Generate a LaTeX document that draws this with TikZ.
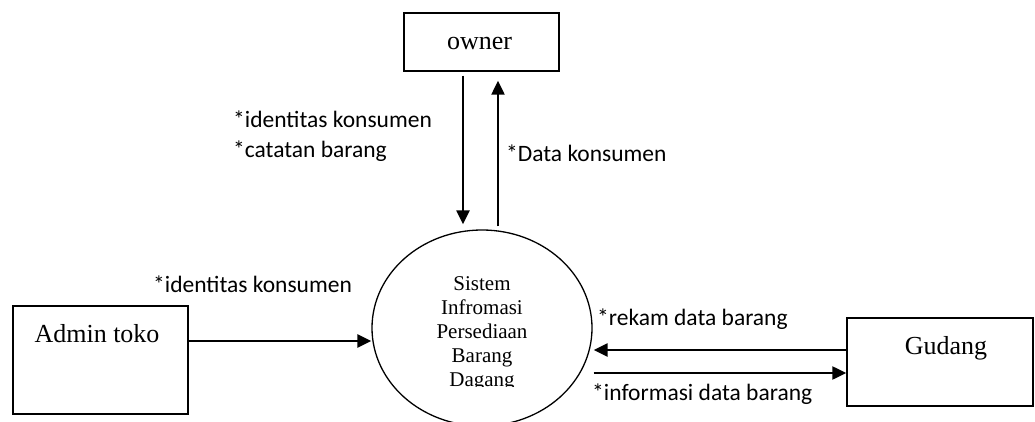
\documentclass[tikz,border=0pt]{standalone}
\usepackage{fontspec}
\setmainfont{Liberation Serif}
\newfontfamily\labelfont{Carlito}
\usetikzlibrary{shapes.geometric,arrows.meta}
\tikzset{
  x=1pt, y=1pt,
  entity/.style={draw, line width=1.4pt, rectangle, inner sep=0pt},
  process/.style={draw, line width=1.3pt, ellipse, inner sep=0pt},
  boxtext/.style={font=\fontsize{26}{30}\selectfont, anchor=base, inner sep=0pt},
  flowlabel/.style={font=\labelfont\fontsize{23.5}{30}\selectfont, anchor=base west, inner sep=0pt},
  flow/.style={line width=2.3pt, -{Triangle[length=14pt,width=13pt]}},
}
\begin{document}
\begin{tikzpicture}
\clip (0,0) rectangle (1035,421);

% external entities and the process
\node[entity, minimum width=155pt, minimum height=58pt] (owner) at (481.5,379) {};
\node[entity, minimum width=175pt, minimum height=108pt] (admin) at (100.5,61) {};
\node[entity, minimum width=186pt, minimum height=88pt] (gudang) at (940,59) {};
\node[process, minimum width=220pt, minimum height=196pt] (proc) at (482,93) {};

\node[boxtext] (ownertext) at (479.5,371) {owner};
\node[boxtext] (admintext) at (97,79) {Admin toko};
\node[boxtext] (gudangtext) at (946,67) {Gudang};

% process name (base anchor = last line), cut off along its last baseline
\begin{scope}
  \clip (350,34.5) rectangle (620,200);
  \node[font=\fontsize{21}{24}\selectfont, align=center, anchor=base, inner sep=0pt]
    (proctext) at (482,35) {Sistem\\Infromasi\\Persediaan\\Barang\\Dagang};
\end{scope}

% data flows
\draw[flow] ([xshift=-18.5pt,yshift=-4pt]owner.south) -- ([xshift=-19pt,yshift=5pt]proc.north);
\draw[flow] ([xshift=16pt,yshift=3pt]proc.north) -- ([xshift=16.5pt,yshift=-9pt]owner.south);
\draw[flow] ([yshift=19pt]admin.east) -- ([yshift=-13pt]proc.west);
\draw[flow] ([yshift=12pt]gudang.west) -- ([xshift=1pt,yshift=-22pt]proc.east);
\draw[flow] ([xshift=1pt,yshift=-45pt]proc.east) -- ([yshift=-11pt]gudang.west);

% flow labels
\node[flowlabel] (l1a) at (233,293) {*identitas konsumen};
\node[flowlabel] (l1b) at (233,263) {*catatan barang};
\node[flowlabel] (l2) at (506,259) {*Data konsumen};
\node[flowlabel] (l3) at (153,129) {*identitas konsumen};
\node[flowlabel] (l4) at (597,96) {*rekam data barang};
\node[flowlabel] (l5) at (592,21) {*informasi data barang};
\end{tikzpicture}
\end{document}
